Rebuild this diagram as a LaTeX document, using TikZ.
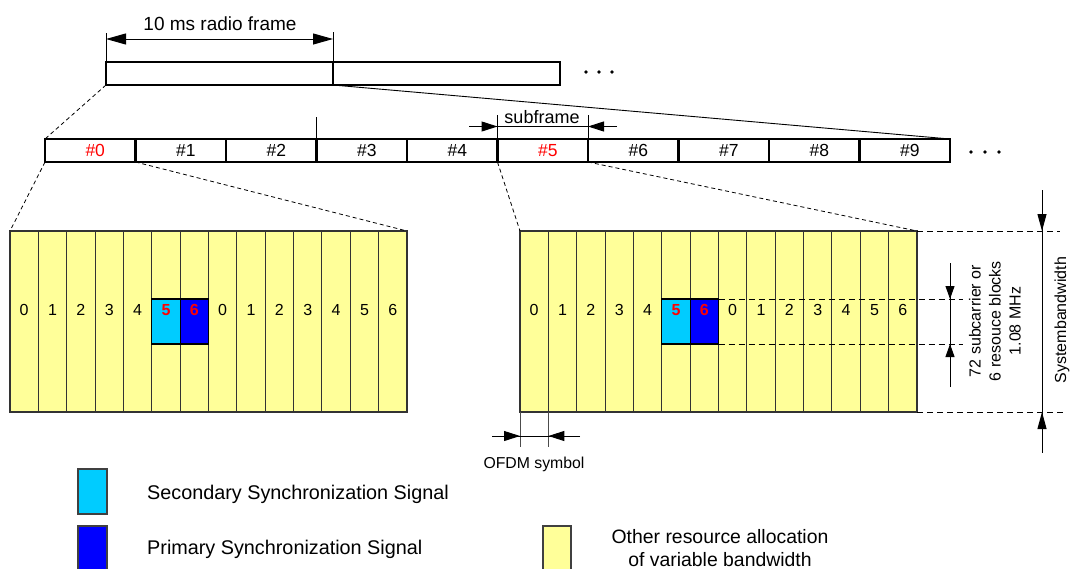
\documentclass[tikz,border=0pt]{standalone}
\usepackage{fontspec}
\setmainfont{Liberation Sans}
\usetikzlibrary{arrows.meta}
\definecolor{cellyellow}{HTML}{FFFF99}
\definecolor{sssblue}{HTML}{00CCFF}
\definecolor{pssblue}{HTML}{0000FF}
\definecolor{gridline}{HTML}{333333}
\definecolor{sigred}{HTML}{FF0000}
\tikzset{
  framebox/.style={draw, line width=2.3pt, minimum height=23pt, inner sep=0pt, outer sep=0pt},
  cellbox/.style={draw=gridline, line width=1.1pt, fill=cellyellow, minimum width=28.357pt, minimum height=181pt, inner sep=0pt, outer sep=0pt},
  sigbox/.style={draw=black, line width=1.1pt, minimum width=28.357pt, minimum height=45pt, inner sep=0pt, outer sep=0pt},
  legbox/.style={draw=black!75, line width=1.1pt, minimum height=45pt, inner sep=0pt, outer sep=0pt},
  dimline/.style={line width=1pt},
  zoomline/.style={line width=0.8pt, dash pattern=on 4pt off 3pt},
  guideline/.style={line width=1pt, dash pattern=on 6pt off 4pt},
  midtip/.style={-{Triangle[length=16pt,width=10pt]}},
  smalltip/.style={-{Triangle[length=13pt,width=9pt]}},
  dotmark/.style={circle, fill=black, inner sep=0pt, minimum size=3.8pt},
  sflabel/.style={anchor=base, inner sep=0pt, font=\fontsize{17.5}{21}\selectfont},
  digitlabel/.style={anchor=base, inner sep=0pt, font=\fontsize{16}{19}\selectfont},
  siglabel/.style={anchor=base, inner sep=0pt, text=sigred, font=\fontsize{16}{19}\selectfont\bfseries},
  legtext/.style={anchor=base west, inner sep=0pt, font=\fontsize{19.8}{24}\selectfont},
}
\begin{document}
\begin{tikzpicture}[x=1pt,y=-1pt]
\useasboundingbox (0,0) rectangle (1070,568);

% ---------- radio frames ----------
\node[framebox, minimum width=227pt] (rf1) at (219.5,73.5) {};
\node[framebox, minimum width=227pt] (rf2) at (446.5,73.5) {};
\node[dotmark] (td1) at (586,72) {};
\node[dotmark] (td2) at (599,72) {};
\node[dotmark] (td3) at (612,72) {};

% 10 ms dimension
\coordinate (rfy) at (0,39);
\draw[dimline] (rf1.north west) -- ++(0,-29);
\draw[dimline] (rf1.north east) -- ++(0,-30);
\draw[dimline,{Triangle[length=20pt,width=11pt]}-{Triangle[length=20pt,width=11pt]}] (rf1.north west |- rfy) -- (rf1.north east |- rfy);
\node[anchor=base, inner sep=0pt, font=\fontsize{19}{23}\selectfont] (rflabel) at (220,30) {10 ms radio frame};

% ---------- subframes ----------
\foreach \i in {0,...,9}
  \node[framebox, minimum width=90.5pt] (sf\i) at ({90.25+90.5*\i},150.5) {};
\foreach \i in {1,2,3,4,6,7,8,9}
  \node[sflabel] (sl\i) at ({95.25+90.5*\i},156.5) {\#\i};
\foreach \i in {0,5}
  \node[sflabel, text=sigred] (sl\i) at ({95.25+90.5*\i},156.5) {\#\i};
\node[dotmark] (sd1) at (971,152) {};
\node[dotmark] (sd2) at (985,152) {};
\node[dotmark] (sd3) at (999,152) {};

% stray tick above #3
\draw[dimline] (sf3.north west) -- ++(0,-22);

% subframe dimension
\coordinate (sfA) at (469,126.5);
\coordinate (sfB) at (617,126.5);
\draw[dimline] (sf5.north west) -- ++(0,-24);
\draw[dimline] (sf5.north east) -- ++(0,-24);
\draw[dimline] (sfA) -- (sfB);
\draw[dimline,midtip] (sfA) -- (sf5.north west |- sfA);
\draw[dimline,midtip] (sfB) -- (sf5.north east |- sfA);
\node[anchor=base, inner sep=0pt, font=\fontsize{18}{22}\selectfont] (sflab) at (542,123) {subframe};

% ---------- resource grids ----------
\foreach \i in {0,...,13} {
  \node[cellbox] (gL\i) at ({24.18+28.357*\i},321.5) {};
  \node[cellbox] (gR\i) at ({534.18+28.357*\i},321.5) {};
}
\node[sigbox, fill=sssblue] (sssL) at (gL5) {};
\node[sigbox, fill=pssblue] (pssL) at (gL6) {};
\node[sigbox, fill=sssblue] (sssR) at (gR5) {};
\node[sigbox, fill=pssblue] (pssR) at (gR6) {};
\foreach \i in {0,1,2,3,4,7,8,9,10,11,12,13} {
  \pgfmathtruncatemacro{\d}{mod(\i,7)}
  \node[digitlabel] (dL\i) at ([yshift=6pt]gL\i.center) {\d};
  \node[digitlabel] (dR\i) at ([yshift=6pt]gR\i.center) {\d};
}
\node[siglabel] (dL5) at ([yshift=6pt]gL5.center) {5};
\node[siglabel] (dL6) at ([yshift=6pt]gL6.center) {6};
\node[siglabel] (dR5) at ([yshift=6pt]gR5.center) {5};
\node[siglabel] (dR6) at ([yshift=6pt]gR6.center) {6};

% ---------- zoom lines ----------
\draw[zoomline] (rf1.south west) -- (sf0.north west);
\draw[line width=0.9pt] (rf2.south west) -- (sf9.north east);
\draw[zoomline] (sf0.south west) -- (gL0.north west);
\draw[zoomline] (sf0.south east) -- (gL13.north east);
\draw[zoomline] (sf5.south west) -- (gR0.north west);
\draw[zoomline] (sf5.south east) -- (gR13.north east);

% ---------- right annotations ----------
\coordinate (gtopend) at (1060,231);
\coordinate (gbotend) at (1065,412);
\draw[guideline] (gR13.north east) -- (gR13.north east -| gtopend);
\draw[guideline] (gR13.south east) -- (gR13.south east -| gbotend);
\coordinate (midend) at (963,0);
\draw[guideline] (pssR.north east) -- (pssR.north east -| midend);
\draw[guideline] (pssR.south east) -- (pssR.south east -| midend);

\coordinate (rbTop) at (950,263);
\coordinate (rbBot) at (950,387);
\draw[dimline] (rbTop) -- (rbBot);
\draw[dimline,smalltip] (rbTop) -- (rbTop |- pssR.north);
\draw[dimline,smalltip] (rbBot) -- (rbBot |- pssR.south);
\node[rotate=90, align=center, inner sep=0pt, font=\fontsize{16}{20}\selectfont] (rbtext) at (995,321) {72 subcarrier or\\6 resouce blocks\\1.08 MHz};

\coordinate (sbTop) at (1042,190);
\coordinate (sbBot) at (1042,453);
\draw[dimline] (sbTop) -- (sbBot);
\draw[dimline,{Triangle[length=17pt,width=9pt]}-] (sbTop |- gR13.north) -- (sbTop);
\draw[dimline,{Triangle[length=17pt,width=9pt]}-] (sbBot |- gR13.south) -- (sbBot);
\node[rotate=90, anchor=base, inner sep=0pt, font=\fontsize{16}{20}\selectfont] (sbw) at (1066,320) {Systembandwidth};

% OFDM symbol
\draw[line width=0.9pt, black!70] (gR0.south west) -- ++(0,35);
\draw[line width=0.9pt, black!70] (gR0.south east) -- ++(0,35);
\coordinate (ofA) at (492,436);
\coordinate (ofB) at (580,436);
\draw[dimline] (ofA) -- (ofB);
\draw[dimline,midtip] (ofA) -- (gR0.south west |- ofA);
\draw[dimline,midtip] (ofB) -- (gR0.south east |- ofA);
\node[anchor=base, inner sep=0pt, font=\fontsize{15.8}{19}\selectfont] (ofdm) at (534,468) {OFDM symbol};

% ---------- legend ----------
\node[legbox, minimum width=29pt, fill=sssblue] (legS) at (92.5,491.5) {};
\node[legbox, minimum width=29pt, fill=pssblue] (legP) at (92.5,548.5) {};
\node[legbox, minimum width=28pt, fill=cellyellow] (legY) at (557,548.5) {};
\node[legtext] (legSt) at (147,499) {Secondary Synchronization Signal};
\node[legtext] (legPt) at (147,554) {Primary Synchronization Signal};
\node[anchor=base, inner sep=0pt, font=\fontsize{19.4}{24}\selectfont] (legYt1) at (720,543) {Other resource allocation};
\node[anchor=base, inner sep=0pt, font=\fontsize{19.4}{24}\selectfont] (legYt2) at (720,566) {of variable bandwidth};
\end{tikzpicture}
\end{document}
